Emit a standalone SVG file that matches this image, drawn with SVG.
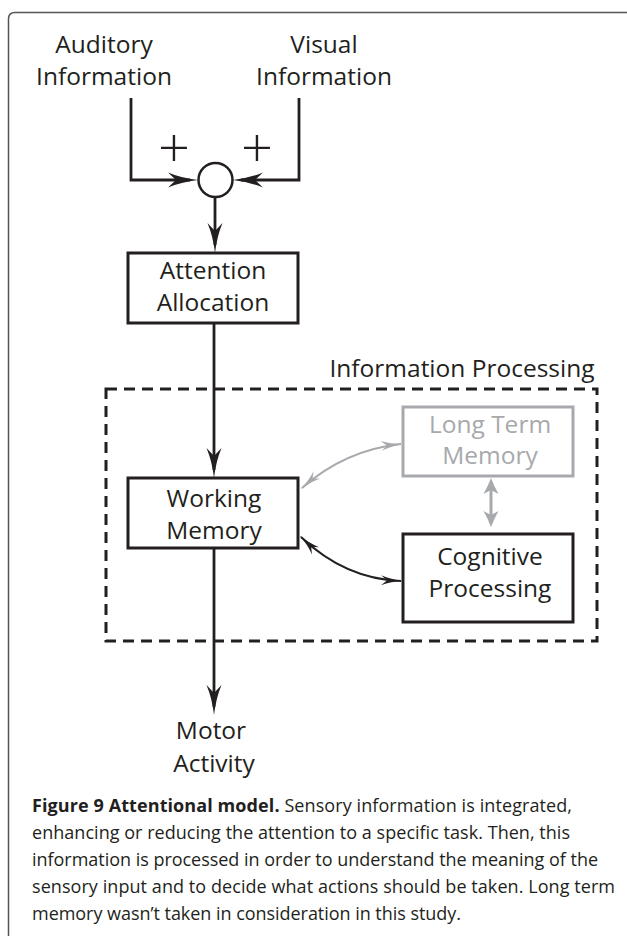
<svg xmlns="http://www.w3.org/2000/svg" width="627" height="936" viewBox="0 0 627 936">
<style>
.t{font-family:"Open Sans","Noto Sans",sans-serif;font-size:24.5px;fill:#231f20;text-anchor:middle}
.g{fill:#a7a9ac}
.plus{font-size:56px;font-weight:300}
.box{fill:#fff;stroke:#231f20;stroke-width:3}
.gbox{fill:#fff;stroke:#a7a9ac;stroke-width:3}
.ln{fill:none;stroke:#231f20;stroke-width:2.8}
.cap{font-family:"Open Sans","Noto Sans",sans-serif;font-size:18px;fill:#231f20}
</style>
<defs>
<marker id="ah" markerUnits="userSpaceOnUse" viewBox="0 0 30 16" refX="22" refY="8" markerWidth="30" markerHeight="16" orient="auto">
<path d="M0,0.5 Q13,6 30,8 Q13,10 0,15.5 L8,8 Z" fill="#231f20"/>
</marker>
<marker id="sb" markerUnits="userSpaceOnUse" viewBox="0 0 22 12" refX="20" refY="6" markerWidth="22" markerHeight="12" orient="auto-start-reverse">
<path d="M0,1 Q10,5 22,6 Q10,7 0,11 L6,6 Z" fill="#231f20"/>
</marker>
<marker id="sg" markerUnits="userSpaceOnUse" viewBox="0 0 22 12" refX="20" refY="6" markerWidth="22" markerHeight="12" orient="auto-start-reverse">
<path d="M0,1 Q10,5 22,6 Q10,7 0,11 L6,6 Z" fill="#a7a9ac"/>
</marker>
<marker id="vg" markerUnits="userSpaceOnUse" viewBox="0 0 16 16" refX="12" refY="8" markerWidth="16" markerHeight="16" orient="auto-start-reverse">
<path d="M0,0.5 Q8,5 16,8 Q8,11 0,15.5 L4,8 Z" fill="#a7a9ac"/>
</marker>
</defs>

<path d="M8.5,936 V19 Q8.5,12.5 15,12.5 H627" fill="none" stroke="#555" stroke-width="1.5"/>

<g id="connectors">
<path class="ln" d="M131,98 V180 H190" marker-end="url(#ah)"/>
<path class="ln" d="M299,98 V180 H241" marker-end="url(#ah)"/>
<path class="ln" d="M215,197 V245" marker-end="url(#ah)"/>
<path class="ln" d="M214,323 V470" marker-end="url(#ah)"/>
<path class="ln" d="M214,548 V707" marker-end="url(#ah)"/>
<path d="M302,488 Q345,450 401,444" fill="none" stroke="#a7a9ac" stroke-width="2.2" marker-start="url(#sg)" marker-end="url(#sg)"/>
<path d="M301,537 Q345,579 401,581" fill="none" stroke="#231f20" stroke-width="2" marker-start="url(#sb)" marker-end="url(#sb)"/>
<path d="M491,482 V523" fill="none" stroke="#a7a9ac" stroke-width="3" marker-start="url(#vg)" marker-end="url(#vg)"/>
</g>

<g id="auditory">
<text class="t" x="104" y="53">Auditory</text>
<text class="t" x="104" y="85">Information</text>
</g>
<g id="visual">
<text class="t" x="324" y="53">Visual</text>
<text class="t" x="324" y="85">Information</text>
</g>
<g id="sum">
<circle cx="215.5" cy="180" r="17" fill="#fff" stroke="#231f20" stroke-width="2.5"/>
<text class="t plus" x="174" y="167">+</text>
<text class="t plus" x="257" y="167">+</text>
</g>
<g id="attention">
<rect class="box" x="128" y="253" width="170" height="70"/>
<text class="t" x="213" y="279">Attention</text>
<text class="t" x="213" y="311">Allocation</text>
</g>
<g id="info-processing">
<rect x="106" y="389" width="491" height="252" fill="none" stroke="#231f20" stroke-width="3" stroke-dasharray="11 7"/>
<text class="t" x="462" y="377">Information Processing</text>
</g>
<g id="working-memory">
<rect class="box" x="128" y="478" width="170" height="70"/>
<text class="t" x="214" y="507">Working</text>
<text class="t" x="214" y="539">Memory</text>
</g>
<g id="long-term-memory">
<rect class="gbox" x="403" y="407" width="170" height="69"/>
<text class="t g" x="490" y="433">Long Term</text>
<text class="t g" x="490" y="464">Memory</text>
</g>
<g id="cognitive-processing">
<rect class="box" x="403" y="534" width="170" height="88"/>
<text class="t" x="490" y="565">Cognitive</text>
<text class="t" x="490" y="597">Processing</text>
</g>
<g id="motor">
<text class="t" x="211" y="739">Motor</text>
<text class="t" x="214" y="772">Activity</text>
</g>

<g id="caption">
<text class="cap" x="32" y="812" textLength="540" lengthAdjust="spacing"><tspan font-weight="bold">Figure 9 Attentional model.</tspan> Sensory information is integrated,</text>
<text class="cap" x="32" y="839" textLength="538" lengthAdjust="spacing">enhancing or reducing the attention to a specific task. Then, this</text>
<text class="cap" x="32" y="866" textLength="566" lengthAdjust="spacing">information is processed in order to understand the meaning of the</text>
<text class="cap" x="32" y="893" textLength="583" lengthAdjust="spacing">sensory input and to decide what actions should be taken. Long term</text>
<text class="cap" x="32" y="920" textLength="429" lengthAdjust="spacing">memory wasn’t taken in consideration in this study.</text>
</g>
</svg>
